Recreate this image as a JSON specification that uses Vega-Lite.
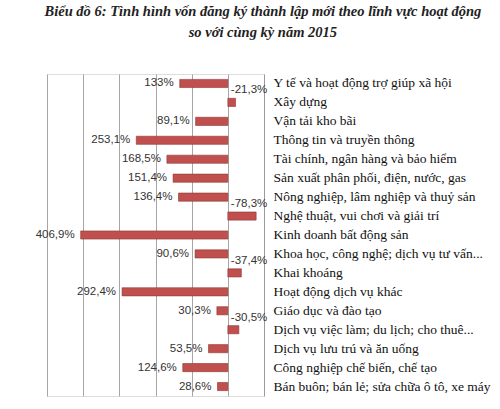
{
  "$schema": "https://vega.github.io/schema/vega-lite/v6.json",
  "autosize": {"type": "none"},
  "width": 217,
  "height": 322,
  "padding": {"left": 47, "top": 74, "right": 236, "bottom": 13},
  "background": "white",
  "title": {
    "text": ["Biểu đồ 6: Tình hình vốn đăng ký thành lập mới theo lĩnh vực hoạt động", "so với cùng kỳ năm 2015"],
    "font": "Liberation Serif",
    "fontSize": 14.5,
    "fontStyle": "italic",
    "fontWeight": "bold",
    "color": "#222222",
    "anchor": "middle",
    "frame": "bounds",
    "lineHeight": 21,
    "offset": 34
  },
  "data": {
    "values": [
      {"category": "Y tế và hoạt động trợ giúp xã hội", "value": 133, "label": "133%"},
      {"category": "Xây dựng", "value": -21.3, "label": "-21,3%"},
      {"category": "Vận tải kho bãi", "value": 89.1, "label": "89,1%"},
      {"category": "Thông tin và truyền thông", "value": 253.1, "label": "253,1%"},
      {"category": "Tài chính, ngân hàng và bảo hiểm", "value": 168.5, "label": "168,5%"},
      {"category": "Sản xuất phân phối, điện, nước, gas", "value": 151.4, "label": "151,4%"},
      {"category": "Nông nghiệp, lâm nghiệp và thuỷ sản", "value": 136.4, "label": "136,4%"},
      {"category": "Nghệ thuật, vui chơi và giải trí", "value": -78.3, "label": "-78,3%"},
      {"category": "Kinh doanh bất động sản", "value": 406.9, "label": "406,9%"},
      {"category": "Khoa học, công nghệ; dịch vụ tư vấn...", "value": 90.6, "label": "90,6%"},
      {"category": "Khai khoáng", "value": -37.4, "label": "-37,4%"},
      {"category": "Hoạt động dịch vụ khác", "value": 292.4, "label": "292,4%"},
      {"category": "Giáo dục và đào tạo", "value": 30.3, "label": "30,3%"},
      {"category": "Dịch vụ việc làm; du lịch; cho thuê...", "value": -30.5, "label": "-30,5%"},
      {"category": "Dịch vụ lưu trú và ăn uống", "value": 53.5, "label": "53,5%"},
      {"category": "Công nghiệp chế biến, chế tạo", "value": 124.6, "label": "124,6%"},
      {"category": "Bán buôn; bán lẻ; sửa chữa ô tô, xe máy", "value": 28.6, "label": "28,6%"}
    ]
  },
  "encoding": {
    "y": {
      "field": "category",
      "type": "nominal",
      "sort": null,
      "scale": {"paddingInner": 0.57, "paddingOuter": 0.285},
      "axis": {
        "orient": "right",
        "title": null,
        "ticks": false,
        "domain": true,
        "domainColor": "#9a9a9a",
        "labelFont": "Liberation Serif",
        "labelFontSize": 13.5,
        "labelColor": "#111111",
        "labelPadding": 9,
        "labelLimit": 240
      }
    }
  },
  "layer": [
    {
      "mark": {"type": "bar", "color": "#c0504d", "stroke": "#8e3532", "strokeWidth": 0.6},
      "encoding": {
        "x": {
          "field": "value",
          "type": "quantitative",
          "scale": {"domain": [-100, 500], "reverse": true, "nice": false},
          "axis": {
            "title": null,
            "labels": false,
            "ticks": false,
            "domain": false,
            "grid": true,
            "gridColor": "#a6a6a6",
            "values": [0, 100, 200, 300, 400, 500]
          }
        }
      }
    },
    {
      "transform": [{"filter": "datum.value >= 0"}],
      "mark": {"type": "text", "align": "right", "baseline": "middle", "dx": -6, "font": "Liberation Sans", "fontSize": 11.5, "color": "#333333"},
      "encoding": {
        "x": {"field": "value", "type": "quantitative"},
        "text": {"field": "label"}
      }
    },
    {
      "transform": [{"filter": "datum.value < 0"}],
      "mark": {"type": "text", "align": "left", "baseline": "middle", "dx": 3, "dy": -12, "font": "Liberation Sans", "fontSize": 11.5, "color": "#333333"},
      "encoding": {
        "x": {"datum": 0},
        "text": {"field": "label"}
      }
    }
  ]
}
